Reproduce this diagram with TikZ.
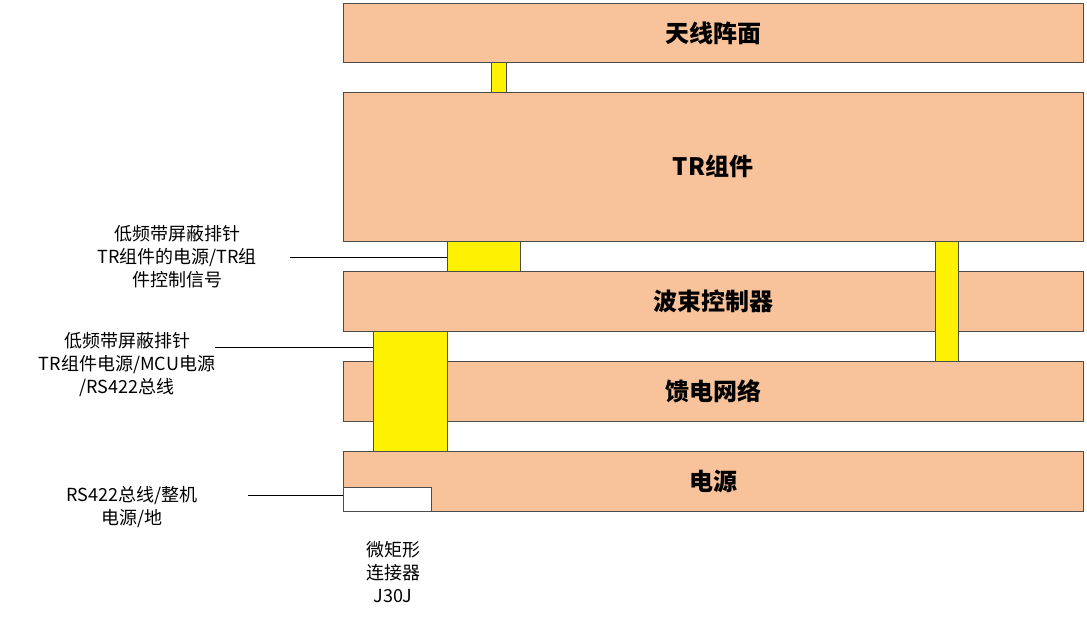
\documentclass[tikz,border=0pt]{standalone}
\usepackage{fontspec}
\setmainfont{Noto Sans CJK SC}
\begin{document}
\begin{tikzpicture}[x=1pt,y=-1pt,
  blk/.style={draw=black!70,fill=boxc,line width=0.8pt},
  ylw/.style={draw=black!70,fill=yellow,line width=0.8pt},
  ttl/.style={font=\fontsize{24}{28}\selectfont\bfseries},
  lbl/.style={font=\fontsize{18}{23}\selectfont,align=center}]
\definecolor{boxc}{HTML}{F8C39B}
\useasboundingbox (0,0) rectangle (1087,619);
\draw[blk] (343,3) rectangle (1083,62);
\node[ttl] (a) at (713,33) {天线阵面};
\draw[ylw] (491,62) rectangle (506,92);
\draw[blk] (343,92) rectangle (1083,241);
\node[ttl] (b) at (713,166) {TR组件};
\draw[blk] (343,271) rectangle (1083,331);
\node[ttl] (c) at (713,301) {波束控制器};
\draw[blk] (343,361) rectangle (1083,421);
\node[ttl] (d) at (713,391) {馈电网络};
\draw[blk] (343,451) rectangle (1083,511);
\node[ttl] (e) at (713,481) {电源};
\draw[ylw] (447,241) rectangle (520,271);
\draw[ylw] (935,241) rectangle (958,361);
\draw[ylw] (373,331) rectangle (447,451);
\draw[draw=black!70,fill=white,line width=0.8pt] (343,487) rectangle (431,511);
\coordinate (p1) at (447,257);
\coordinate (p2) at (373,347);
\coordinate (p3) at (343,495);
\node[lbl] (l1) at (177,257) {低频带屏蔽排针\\TR组件的电源/TR组\\件控制信号};
\node[lbl] (l2) at (127,365) {低频带屏蔽排针\\TR组件电源/MCU电源\\/RS422总线};
\node[lbl] (l3) at (132,507) {RS422总线/整机\\电源/地};
\node[lbl] (l4) at (393,572) {微矩形\\连接器\\J30J};
\draw[line width=0.8pt] (290,257) -- (p1);
\draw[line width=0.8pt] (215,347) -- (p2);
\draw[line width=0.8pt] (248,495) -- (p3);
\end{tikzpicture}
\end{document}
